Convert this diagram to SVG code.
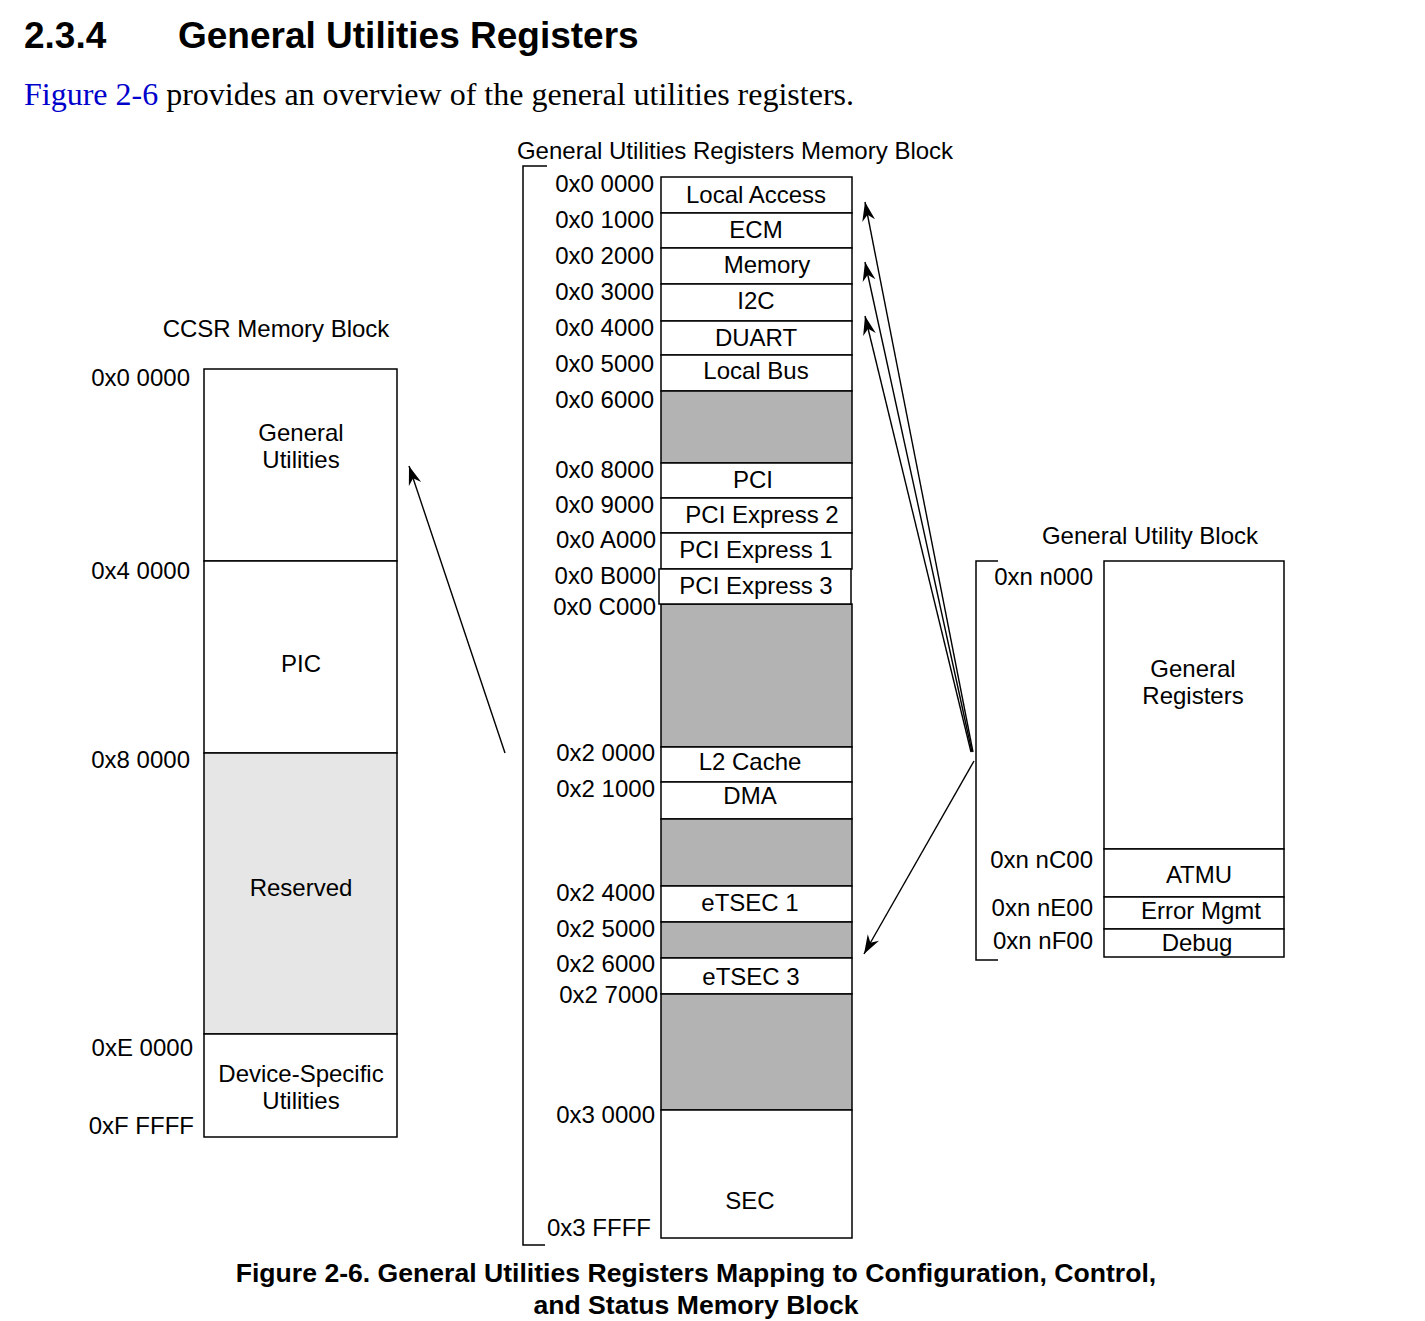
<svg xmlns="http://www.w3.org/2000/svg" width="1425" height="1321" viewBox="0 0 1425 1321">
<style>
  .t{font-family:"Liberation Sans",Arial,sans-serif;font-size:24px;fill:#000}
  .m{text-anchor:middle}
  .r{text-anchor:end}
  .box{fill:#fff;stroke:#000;stroke-width:1.5}
  .g{fill:#b3b3b3;stroke:#000;stroke-width:1.5}
  .lg{fill:#e6e6e6;stroke:#000;stroke-width:1.5}
  .br{fill:none;stroke:#000;stroke-width:1.5}
  .ln{fill:none;stroke:#000;stroke-width:1.4}
  .cap{font-family:"Liberation Sans",Arial,sans-serif;font-size:26.6px;font-weight:bold;text-anchor:middle}
</style>
<defs>
  <marker id="ah" markerUnits="userSpaceOnUse" markerWidth="22" markerHeight="14" refX="19" refY="7" orient="auto">
    <path d="M0,0.5 L19,7 L0,13.5 L6,7 z" fill="#000"/>
  </marker>
</defs>
<rect width="1425" height="1321" fill="#fff"/>

<g id="header">
  <text x="24" y="48" style="font-family:'Liberation Sans',Arial,sans-serif;font-size:37px;font-weight:bold">2.3.4</text>
  <text x="178" y="48" style="font-family:'Liberation Sans',Arial,sans-serif;font-size:37px;font-weight:bold">General Utilities Registers</text>
  <text x="24" y="105" style="font-family:'Liberation Serif','Times New Roman',serif;font-size:32px"><tspan fill="#0000cc">Figure 2-6</tspan> provides an overview of the general utilities registers.</text>
</g>

<g id="ccsr">
  <text class="t m" x="276" y="337">CCSR Memory Block</text>
  <rect class="box" x="204" y="369" width="193" height="192"/>
  <rect class="box" x="204" y="561" width="193" height="192"/>
  <rect class="lg" x="204" y="753" width="193" height="281"/>
  <rect class="box" x="204" y="1034" width="193" height="103"/>
  <text class="t m" x="301" y="441">General</text>
  <text class="t m" x="301" y="468">Utilities</text>
  <text class="t m" x="301" y="672">PIC</text>
  <text class="t m" x="301" y="896">Reserved</text>
  <text class="t m" x="301" y="1082">Device-Specific</text>
  <text class="t m" x="301" y="1109">Utilities</text>
  <text class="t r" x="190" y="386">0x0 0000</text>
  <text class="t r" x="190" y="579">0x4 0000</text>
  <text class="t r" x="190" y="768">0x8 0000</text>
  <text class="t r" x="193" y="1056">0xE 0000</text>
  <text class="t r" x="194" y="1134">0xF FFFF</text>
</g>

<g id="gur">
  <text class="t m" x="735" y="159">General Utilities Registers Memory Block</text>
  <path class="br" d="M547,166 H523 V1245 H545"/>
  <rect class="box" x="661" y="177" width="191" height="36"/>
  <rect class="box" x="661" y="213" width="191" height="35"/>
  <rect class="box" x="661" y="248" width="191" height="36"/>
  <rect class="box" x="661" y="284" width="191" height="37"/>
  <rect class="box" x="661" y="321" width="191" height="34"/>
  <rect class="box" x="661" y="355" width="191" height="36"/>
  <rect class="g" x="661" y="391" width="191" height="72"/>
  <rect class="box" x="661" y="463" width="191" height="35"/>
  <rect class="box" x="661" y="498" width="191" height="35"/>
  <rect class="box" x="661" y="533" width="191" height="36"/>
  <rect class="g" x="661" y="604" width="191" height="143"/>
  <rect class="box" x="659" y="569" width="192" height="35"/>
  <rect class="box" x="661" y="747" width="191" height="35"/>
  <rect class="box" x="661" y="782" width="191" height="37"/>
  <rect class="g" x="661" y="819" width="191" height="67"/>
  <rect class="box" x="661" y="886" width="191" height="36"/>
  <rect class="g" x="661" y="922" width="191" height="36"/>
  <rect class="box" x="661" y="958" width="191" height="36"/>
  <rect class="g" x="661" y="994" width="191" height="116"/>
  <rect class="box" x="661" y="1110" width="191" height="128"/>

  <text class="t m" x="756" y="203">Local Access</text>
  <text class="t m" x="756" y="238">ECM</text>
  <text class="t m" x="767" y="273">Memory</text>
  <text class="t m" x="756" y="309">I2C</text>
  <text class="t m" x="756" y="346">DUART</text>
  <text class="t m" x="756" y="379">Local Bus</text>
  <text class="t m" x="753" y="488">PCI</text>
  <text class="t m" x="762" y="523">PCI Express 2</text>
  <text class="t m" x="756" y="558">PCI Express 1</text>
  <text class="t m" x="756" y="594">PCI Express 3</text>
  <text class="t m" x="750" y="770">L2 Cache</text>
  <text class="t m" x="750" y="804">DMA</text>
  <text class="t m" x="750" y="911">eTSEC 1</text>
  <text class="t m" x="751" y="985">eTSEC 3</text>
  <text class="t m" x="750" y="1209">SEC</text>

  <text class="t r" x="654" y="192">0x0 0000</text>
  <text class="t r" x="654" y="228">0x0 1000</text>
  <text class="t r" x="654" y="264">0x0 2000</text>
  <text class="t r" x="654" y="300">0x0 3000</text>
  <text class="t r" x="654" y="336">0x0 4000</text>
  <text class="t r" x="654" y="372">0x0 5000</text>
  <text class="t r" x="654" y="408">0x0 6000</text>
  <text class="t r" x="654" y="478">0x0 8000</text>
  <text class="t r" x="654" y="513">0x0 9000</text>
  <text class="t r" x="656" y="548">0x0 A000</text>
  <text class="t r" x="656" y="584">0x0 B000</text>
  <text class="t r" x="656" y="615">0x0 C000</text>
  <text class="t r" x="655" y="761">0x2 0000</text>
  <text class="t r" x="655" y="797">0x2 1000</text>
  <text class="t r" x="655" y="901">0x2 4000</text>
  <text class="t r" x="655" y="937">0x2 5000</text>
  <text class="t r" x="655" y="972">0x2 6000</text>
  <text class="t r" x="658" y="1003">0x2 7000</text>
  <text class="t r" x="655" y="1123">0x3 0000</text>
  <text class="t r" x="651" y="1236">0x3 FFFF</text>
</g>

<g id="gub">
  <text class="t m" x="1150" y="544">General Utility Block</text>
  <path class="br" d="M998,561 H976 V960 H998"/>
  <rect class="box" x="1104" y="561" width="180" height="288"/>
  <rect class="box" x="1104" y="849" width="180" height="48"/>
  <rect class="box" x="1104" y="897" width="180" height="32"/>
  <rect class="box" x="1104" y="929" width="180" height="28"/>
  <text class="t m" x="1193" y="677">General</text>
  <text class="t m" x="1193" y="704">Registers</text>
  <text class="t m" x="1199" y="883">ATMU</text>
  <text class="t m" x="1201" y="919">Error Mgmt</text>
  <text class="t m" x="1197" y="951">Debug</text>
  <text class="t r" x="1093" y="585">0xn n000</text>
  <text class="t r" x="1093" y="868">0xn nC00</text>
  <text class="t r" x="1093" y="916">0xn nE00</text>
  <text class="t r" x="1093" y="949">0xn nF00</text>
</g>

<g id="connectors">
  <line class="ln" x1="505" y1="753" x2="409" y2="466" marker-end="url(#ah)"/>
  <line class="ln" x1="973" y1="752" x2="865" y2="202" marker-end="url(#ah)"/>
  <line class="ln" x1="972" y1="752" x2="865" y2="262" marker-end="url(#ah)"/>
  <line class="ln" x1="971" y1="752" x2="865" y2="316" marker-end="url(#ah)"/>
  <line class="ln" x1="974" y1="761" x2="864" y2="954" marker-end="url(#ah)"/>
</g>

<g id="caption">
  <text class="cap" x="696" y="1282">Figure 2-6. General Utilities Registers Mapping to Configuration, Control,</text>
  <text class="cap" x="696" y="1314">and Status Memory Block</text>
</g>
</svg>
